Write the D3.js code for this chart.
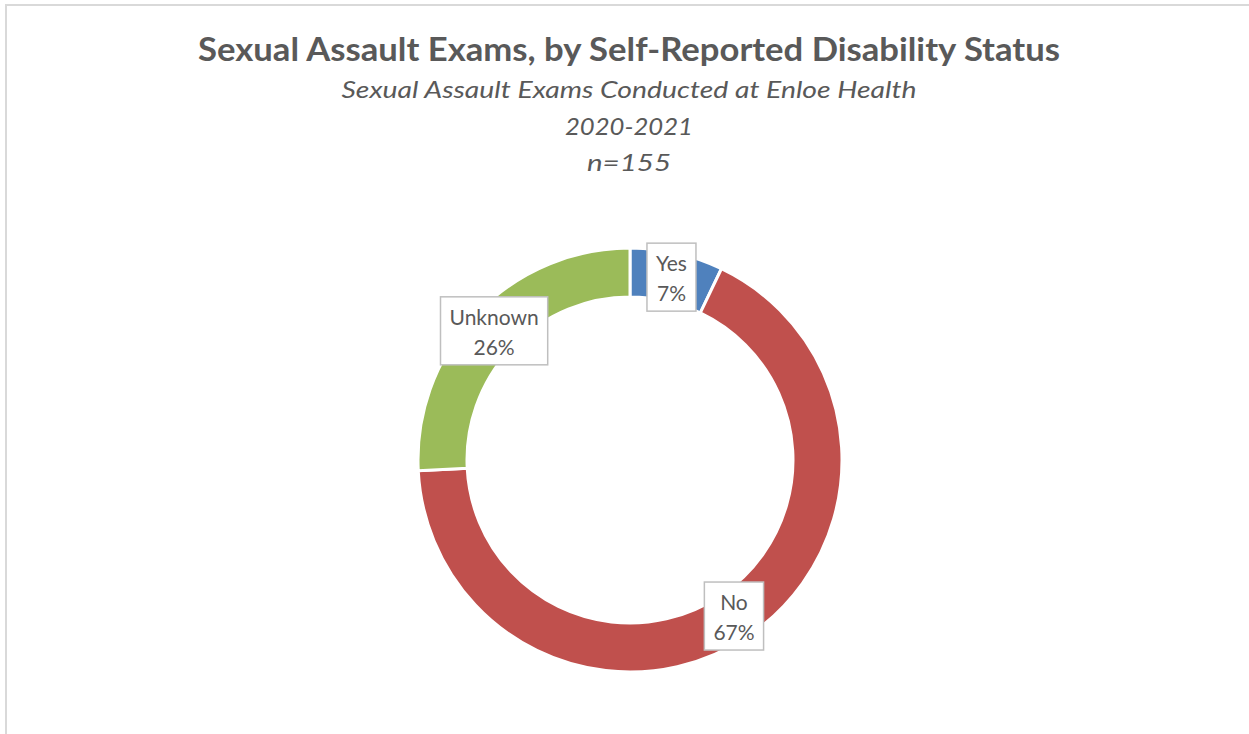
<html>
<script src="https://cdnjs.cloudflare.com/ajax/libs/d3/7.8.5/d3.min.js"></script>
<style>
  body { margin: 0; background: #fff; }
  text { font-family: Lato, "Open Sans", sans-serif; fill: #595959; }
</style>
<body>
  <svg width="1249" height="734"></svg>
</body>
</html>
<script>
  // data (n = 155)
  const categories = ['Yes', 'No', 'Unknown'];
  const counts = [11, 104, 40];
  const colors = ['#4f81bd', '#c0504d', '#9bbb59'];
  const titleLines = ['Sexual Assault Exams Conducted at Enloe Health', '2020-2021', 'n=155'];

  const total = d3.sum(counts);
  const dados = categories.map((c, i) => ({ cat: c, qtd: counts[i], cor: colors[i] }));

  const svg = d3.select('svg');

  // chart frame (only left/top edges visible in the window)
  svg.append('rect')
    .attr('x', 6).attr('y', 5)
    .attr('width', 1300).attr('height', 800)
    .attr('fill', 'none')
    .attr('stroke', '#d9d9d9')
    .attr('stroke-width', 2);

  // titles
  svg.append('text')
    .attr('x', 629).attr('y', 61)
    .attr('text-anchor', 'middle')
    .attr('font-size', 33)
    .attr('font-weight', 'bold')
    .attr('textLength', 862)
    .attr('lengthAdjust', 'spacingAndGlyphs')
    .text('Sexual Assault Exams, by Self-Reported Disability Status');

  const subW = [575, 128, 84];
  const subY = [98, 135, 171];
  titleLines.forEach((t, i) => {
    svg.append('text')
      .attr('x', 629).attr('y', subY[i])
      .attr('text-anchor', 'middle')
      .attr('font-size', 23)
      .attr('font-style', 'italic')
      .attr('textLength', subW[i])
      .attr('lengthAdjust', 'spacingAndGlyphs')
      .text(t);
  });

  // donut
  const cx = 630, cy = 460;
  const outerR = 212, innerR = 163;

  const pie = d3.pie().sort(null).value(d => d.qtd);
  const arc = d3.arc().innerRadius(innerR).outerRadius(outerR);

  const g = svg.append('g').attr('transform', `translate(${cx}, ${cy})`);

  const arcs = pie(dados);

  g.selectAll('path')
    .data(arcs)
    .enter()
    .append('path')
    .attr('d', arc)
    .attr('fill', d => d.data.cor)
    .attr('stroke', '#fff')
    .attr('stroke-width', 3);

  // data labels at the centroid of each slice
  const lbl = g.selectAll('g.lbl')
    .data(arcs)
    .enter()
    .append('g')
    .attr('class', 'lbl')
    .attr('transform', d => `translate(${arc.centroid(d)})`);

  const box = lbl.append('rect')
    .attr('fill', '#fff')
    .attr('stroke', '#bfbfbf')
    .attr('stroke-width', 1.5);

  const txt = lbl.append('text')
    .attr('text-anchor', 'middle')
    .attr('font-size', 21);

  txt.append('tspan')
    .attr('x', 0).attr('y', -6)
    .text(d => d.data.cat);
  txt.append('tspan')
    .attr('x', 0).attr('y', 24)
    .text(d => Math.round(d.data.qtd / total * 100) + '%');

  lbl.each(function() {
    const b = d3.select(this).select('text').node().getBBox();
    d3.select(this).select('rect')
      .attr('x', b.x - 9)
      .attr('y', -34)
      .attr('width', b.width + 18)
      .attr('height', 68);
  });
</script>
